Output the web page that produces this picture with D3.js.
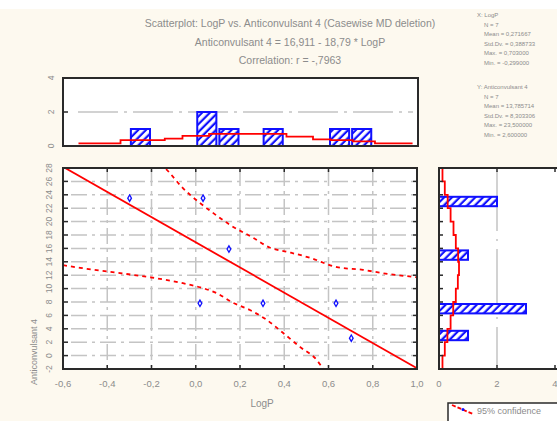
<!DOCTYPE html>
<html><head><meta charset="utf-8">
<script src="https://cdn.jsdelivr.net/npm/d3@7"></script>
<style>
body{margin:0;background:#fdf9ef}
svg{display:block}
text{font-family:"Liberation Sans",Arial,sans-serif}
</style></head>
<body><svg id="c" width="557" height="421"></svg>
<script>
// ---------- data ----------
const logP = [-0.299, 0.033, 0.150, 0.019, 0.304, 0.634, 0.703];
const anticonv = [23.5, 23.5, 15.9, 7.8, 7.8, 7.8, 2.6];
const regIntercept = 16.911, regSlope = -18.79;
const upperBandX = [-0.22, -0.139, -0.058, 0.078, 0.155, 0.259, 0.336, 0.412, 0.516, 0.638, 0.756, 0.846, 1.0];
const upperBandY = [30.0, 28.0, 25.0, 21.3, 19.5, 17.6, 16.1, 15.5, 14.6, 13.2, 12.8, 12.3, 11.7];
const lowerBandX = [-0.6, -0.523, -0.342, -0.207, -0.058, 0.019, 0.096, 0.168, 0.245, 0.322, 0.394, 0.471, 0.548, 0.575, 0.62];
const lowerBandY = [13.5, 13.1, 12.3, 11.7, 10.8, 10.2, 9.3, 7.9, 6.8, 5.3, 3.4, 1.3, -0.7, -1.9, -3.0];
const xTicks = [-0.6, -0.4, -0.2, 0.0, 0.2, 0.4, 0.6, 0.8, 1.0];
const xTickLabels = ["-0,6", "-0,4", "-0,2", "0,0", "0,2", "0,4", "0,6", "0,8", "1,0"];
const yTicks = [-2, 0, 2, 4, 6, 8, 10, 12, 14, 16, 18, 20, 22, 24, 26, 28];
const yTickLabels = ["-2", "0", "2", "4", "6", "8", "10", "12", "14", "16", "18", "20", "22", "24", "26", "28"];
// top histogram (LogP), bins of width 0.1
const topBinStart = [-0.3, 0.0, 0.1, 0.3, 0.6, 0.7];
const topBinCount = [1, 2, 1, 1, 1, 1];
const topBinWidth = 0.1;
const topCountTicks = [0, 2, 4];
const topCurveEdges = [-0.53, -0.34, -0.14, -0.06, 0.06, 0.41, 0.53, 0.61, 0.71, 0.81, 0.98];
const topCurveVals = [0.16, 0.35, 0.43, 0.59, 0.71, 0.55, 0.39, 0.35, 0.27, 0.16];
// right histogram (Anticonvulsant 4), bins of width 2
const rightBinStart = [22, 14, 6, 2];
const rightBinCount = [2, 1, 3, 1];
const rightBinWidth = 2;
const rightCountTicks = [0, 2, 4];
const rightCurveStart = [-2, 0, 2, 4, 6, 8, 10, 12, 14, 16, 18, 20, 22, 24, 26];
const rightCurveVals = [0.12, 0.2, 0.29, 0.4, 0.49, 0.58, 0.65, 0.69, 0.66, 0.58, 0.5, 0.4, 0.3, 0.2, 0.12];
const titles = ["Scatterplot: LogP vs. Anticonvulsant 4 (Casewise MD deletion)",
                "Anticonvulsant 4 = 16,911 - 18,79 * LogP",
                "Correlation: r = -,7963"];
const statsX = ["X: LogP", "N = 7", "Mean = 0,271667", "Std.Dv. = 0,388733", "Max. = 0,703000", "Min. = -0,299000"];
const statsY = ["Y: Anticonvulsant 4", "N = 7", "Mean = 13,785714", "Std.Dv. = 8,303306", "Max. = 23,500000", "Min. = 2,600000"];

// ---------- setup ----------
const svg = d3.select("#c");
const RED = "#ff0000", BLUE = "#1010ff", GRAY = "#8c8c8c", GRID = "#c4c4c4", FRAME = "#2a2a2a";

svg.append("rect").attr("width", 557).attr("height", 421).attr("fill", "#fdf9ef");
svg.append("rect").attr("width", 557).attr("height", 9).attr("fill", "#ffffff");

const defs = svg.append("defs");
const pat = defs.append("pattern").attr("id", "hatch").attr("patternUnits", "userSpaceOnUse")
  .attr("width", 5.5).attr("height", 5.5).attr("patternTransform", "rotate(45)");
pat.append("rect").attr("width", 5.5).attr("height", 5.5).attr("fill", "#fff");
pat.append("rect").attr("x", 1.5).attr("y", 0).attr("width", 2.2).attr("height", 5.5).attr("fill", BLUE);

const M = {l: 63, r: 417, t: 168, b: 369};
const x = d3.scaleLinear().domain([-0.6, 1.0]).range([M.l, M.r]);
const y = d3.scaleLinear().domain([-2, 28]).range([M.b, M.t]);
const T = {t: 78, b: 146};
const yTop = d3.scaleLinear().domain([0, 4]).range([T.b, T.t]);
const R = {l: 439, r: 600};
const xR = d3.scaleLinear().domain([0, 4]).range([R.l, 555]);

defs.append("clipPath").attr("id", "clipMain").append("rect")
  .attr("x", M.l).attr("y", M.t).attr("width", M.r - M.l).attr("height", M.b - M.t);

// ---------- titles ----------
titles.forEach((t, i) => {
  svg.append("text").attr("x", 290).attr("y", [27, 46, 64][i]).attr("text-anchor", "middle")
    .attr("font-size", 10.5).attr("fill", GRAY).text(t);
});
statsX.forEach((t, i) => svg.append("text").attr("x", i ? 484 : 477).attr("y", 17 + i * 9.6)
  .attr("font-size", 6).attr("fill", GRAY).text(t));
statsY.forEach((t, i) => svg.append("text").attr("x", i ? 484 : 477).attr("y", 89 + i * 9.6)
  .attr("font-size", 6).attr("fill", GRAY).text(t));

// ---------- main plot ----------
svg.append("rect").attr("x", M.l).attr("y", M.t).attr("width", M.r - M.l).attr("height", M.b - M.t).attr("fill", "#fff");
const gGrid = svg.append("g").attr("stroke", GRID).attr("stroke-width", 1.5).attr("stroke-dasharray", "16,5,3,5");
gGrid.selectAll(".hg").data(yTicks.slice(1, -1)).join("line")
  .attr("x1", M.l + 8).attr("x2", M.r - 4).attr("y1", d => y(d)).attr("y2", d => y(d));
gGrid.selectAll(".vg").data(xTicks.slice(1, -1)).join("line")
  .attr("y1", M.t + 2).attr("y2", M.b - 2).attr("x1", d => x(d)).attr("x2", d => x(d));

const gm = svg.append("g").attr("clip-path", "url(#clipMain)");
gm.append("line").attr("x1", x(-0.6)).attr("y1", y(regIntercept + regSlope * -0.6))
  .attr("x2", x(1.0)).attr("y2", y(regIntercept + regSlope * 1.0))
  .attr("stroke", RED).attr("stroke-width", 1.8);
const band = d3.line().x(d => x(d[0])).y(d => y(d[1])).curve(d3.curveMonotoneX);
gm.append("path").attr("d", band(upperBandX.map((v, i) => [v, upperBandY[i]])))
  .attr("fill", "none").attr("stroke", RED).attr("stroke-width", 1.8).attr("stroke-dasharray", "4,4");
gm.append("path").attr("d", band(lowerBandX.map((v, i) => [v, lowerBandY[i]])))
  .attr("fill", "none").attr("stroke", RED).attr("stroke-width", 1.8).attr("stroke-dasharray", "4,4");
gm.selectAll(".pt").data(logP.map((v, i) => [v, anticonv[i]])).join("path")
  .attr("d", d3.symbol(d3.symbolDiamond, 12))
  .attr("transform", d => `translate(${x(d[0])},${y(d[1])})`)
  .attr("fill", "#fff").attr("stroke", BLUE).attr("stroke-width", 1.3);

// frame + ticks
svg.append("rect").attr("x", M.l).attr("y", M.t).attr("width", M.r - M.l).attr("height", M.b - M.t)
  .attr("fill", "none").attr("stroke", FRAME).attr("stroke-width", 2);
const ticksG = svg.append("g").attr("stroke", FRAME).attr("stroke-width", 1.5);
yTicks.forEach(v => {
  ticksG.append("line").attr("x1", M.l).attr("x2", M.l + 5).attr("y1", y(v)).attr("y2", y(v));
  ticksG.append("line").attr("x1", M.r).attr("x2", M.r - 4).attr("y1", y(v)).attr("y2", y(v));
});
xTicks.forEach(v => {
  ticksG.append("line").attr("y1", M.b).attr("y2", M.b - 4).attr("x1", x(v)).attr("x2", x(v));
  ticksG.append("line").attr("y1", M.t).attr("y2", M.t + 4).attr("x1", x(v)).attr("x2", x(v));
  ticksG.append("line").attr("y1", T.b).attr("y2", T.b - 4).attr("x1", x(v)).attr("x2", x(v));
  ticksG.append("line").attr("y1", T.t).attr("y2", T.t + 4).attr("x1", x(v)).attr("x2", x(v));
});

// axis labels
xTicks.forEach((v, i) => svg.append("text").attr("x", x(v)).attr("y", 387).attr("text-anchor", "middle")
  .attr("font-size", 9.5).attr("fill", GRAY).text(xTickLabels[i]));
yTicks.forEach((v, i) => svg.append("text").attr("transform", `translate(52,${y(v)}) rotate(-90)`)
  .attr("text-anchor", "middle").attr("font-size", 8.5).attr("fill", GRAY).text(yTickLabels[i]));
svg.append("text").attr("x", x(0.3)).attr("y", 407).attr("text-anchor", "middle")
  .attr("font-size", 10).attr("fill", GRAY).text("LogP");
svg.append("text").attr("transform", "translate(37,352) rotate(-90)").attr("text-anchor", "middle")
  .attr("font-size", 9).attr("fill", GRAY).text("Anticonvulsant 4");

// ---------- top histogram ----------
svg.append("rect").attr("x", M.l).attr("y", T.t).attr("width", M.r + 1 - M.l).attr("height", T.b - T.t).attr("fill", "#fff");
svg.append("line").attr("x1", M.l + 15).attr("x2", M.r - 4).attr("y1", yTop(2)).attr("y2", yTop(2))
  .attr("stroke", GRID).attr("stroke-width", 1.5).attr("stroke-dasharray", "40,6,3,6");
svg.selectAll(".tb").data(topBinStart.map((v, i) => [v, topBinCount[i]])).join("rect")
  .attr("x", d => x(d[0]) + 1.5).attr("y", d => yTop(d[1]))
  .attr("width", d => x(d[0] + topBinWidth) - x(d[0]) - 3).attr("height", d => yTop(0) - yTop(d[1]))
  .attr("fill", "url(#hatch)").attr("stroke", BLUE).attr("stroke-width", 2);
let tp = "";
topCurveVals.forEach((v, i) => {
  tp += (i ? "L" : "M") + x(topCurveEdges[i]) + "," + yTop(v) + "L" + x(topCurveEdges[i + 1]) + "," + yTop(v);
});
svg.append("path").attr("d", tp).attr("fill", "none").attr("stroke", RED).attr("stroke-width", 1.8);
svg.append("rect").attr("x", M.l).attr("y", T.t).attr("width", M.r + 1 - M.l).attr("height", T.b - T.t)
  .attr("fill", "none").attr("stroke", FRAME).attr("stroke-width", 2);
svg.append("g").attr("stroke", FRAME).attr("stroke-width", 1.5).selectAll("line").data(topCountTicks).join("line")
  .attr("x1", M.l).attr("x2", M.l + 5).attr("y1", d => yTop(d)).attr("y2", d => yTop(d));
topCountTicks.forEach(v => svg.append("text").attr("transform", `translate(54,${yTop(v)}) rotate(-90)`)
  .attr("text-anchor", "middle").attr("font-size", 8.5).attr("fill", GRAY).text(v));

// ---------- right histogram ----------
svg.append("rect").attr("x", R.l).attr("y", M.t).attr("width", R.r - R.l).attr("height", M.b - M.t).attr("fill", "#fff");
svg.append("line").attr("x1", xR(2)).attr("x2", xR(2)).attr("y1", M.t + 3).attr("y2", M.b - 3)
  .attr("stroke", GRID).attr("stroke-width", 1.5).attr("stroke-dasharray", "60,8,2,8");
svg.selectAll(".rb").data(rightBinStart.map((v, i) => [v, rightBinCount[i]])).join("rect")
  .attr("x", xR(0)).attr("y", d => y(d[0] + rightBinWidth) + 2)
  .attr("width", d => xR(d[1]) - xR(0)).attr("height", d => y(d[0]) - y(d[0] + rightBinWidth) - 4)
  .attr("fill", "url(#hatch)").attr("stroke", BLUE).attr("stroke-width", 2);
let rp = "";
rightCurveVals.forEach((v, i) => {
  rp += (i ? "L" : "M") + xR(v) + "," + y(rightCurveStart[i]) + "L" + xR(v) + "," + y(rightCurveStart[i] + 2);
});
svg.append("path").attr("d", rp).attr("fill", "none").attr("stroke", RED).attr("stroke-width", 1.8);
svg.append("rect").attr("x", R.l).attr("y", M.t).attr("width", R.r - R.l).attr("height", M.b - M.t)
  .attr("fill", "none").attr("stroke", FRAME).attr("stroke-width", 2);
const rtG = svg.append("g").attr("stroke", FRAME).attr("stroke-width", 1.5);
rightCountTicks.forEach(v => {
  rtG.append("line").attr("x1", xR(v)).attr("x2", xR(v)).attr("y1", M.b).attr("y2", M.b - 4);
  rtG.append("line").attr("x1", xR(v)).attr("x2", xR(v)).attr("y1", M.t).attr("y2", M.t + 4);
  svg.append("text").attr("x", xR(v)).attr("y", 387).attr("text-anchor", "middle")
    .attr("font-size", 9.5).attr("fill", GRAY).text(v);
});
yTicks.forEach(v => rtG.append("line").attr("x1", R.l).attr("x2", R.l + 4).attr("y1", y(v)).attr("y2", y(v)));

// ---------- legend ----------
svg.append("rect").attr("x", 448).attr("y", 403).attr("width", 130).attr("height", 30)
  .attr("fill", "#fff").attr("stroke", FRAME).attr("stroke-width", 1.5);
svg.append("line").attr("x1", 452).attr("y1", 405).attr("x2", 473).attr("y2", 414)
  .attr("stroke", RED).attr("stroke-width", 1.8).attr("stroke-dasharray", "4,2");
svg.append("circle").attr("cx", 463).attr("cy", 409.5).attr("r", 1.5).attr("fill", BLUE);
svg.append("text").attr("x", 477).attr("y", 414).attr("font-size", 9).attr("fill", GRAY).text("95% confidence");
</script></body></html>
